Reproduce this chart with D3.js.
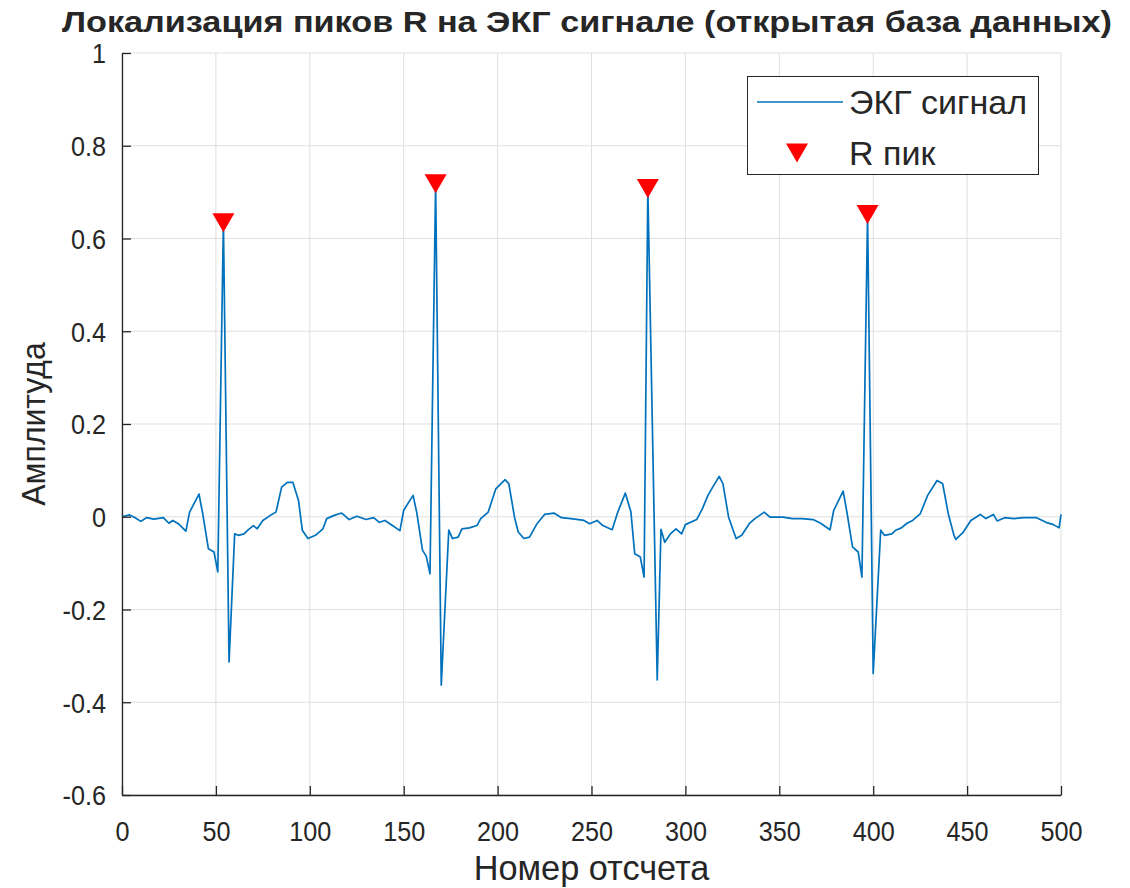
<!DOCTYPE html>
<html>
<head>
<meta charset="utf-8">
<script src="https://cdn.jsdelivr.net/npm/d3@7"></script>
<style>
  body { margin: 0; background: #fff; }
  text { font-family: "Liberation Sans", Arial, sans-serif; fill: #262626; }
</style>
</head>
<body>
<script>
// chart texts
const TITLE = "Локализация пиков R на ЭКГ сигнале (открытая база данных)";
const X_LABEL = "Номер отсчета";
const Y_LABEL = "Амплитуда";
const LEGEND_LABELS = ["ЭКГ сигнал", "R пик"];

// axis ticks
const X_TICKS = [0, 50, 100, 150, 200, 250, 300, 350, 400, 450, 500];
const Y_TICKS = [-0.6, -0.4, -0.2, 0, 0.2, 0.4, 0.6, 0.8, 1];
const Y_TICK_LABELS = ["-0.6", "-0.4", "-0.2", "0", "0.2", "0.4", "0.6", "0.8", "1"];

// ECG trace (sample number, amplitude)
const SAMPLE_IDX = [
  0, 4, 7, 10, 13, 17, 22, 25, 27, 30, 34, 36, 41, 43, 46, 49, 51, 54, 57, 60,
  62, 65, 67, 70, 72, 75, 79, 82, 85, 88, 91, 94, 96, 99, 103, 107, 109, 113, 117, 121,
  125, 130, 134, 137, 140, 144, 148, 150, 155, 157, 160, 162, 164, 167, 170, 174, 176, 179, 181, 185,
  189, 191, 195, 199, 204, 206, 209, 211, 214, 217, 221, 225, 230, 234, 239, 246, 249, 253, 256, 261,
  264, 268, 271, 273, 276, 278, 280, 285, 287, 289, 292, 295, 298, 300, 306, 309, 312, 314, 318, 320,
  323, 327, 330, 334, 337, 342, 345, 352, 357, 362, 368, 372, 377, 379, 384, 386, 389, 392, 394, 397,
  400, 404, 406, 410, 412, 415, 418, 421, 425, 429, 434, 437, 440, 443, 444, 448, 452, 457, 460, 464,
  466, 470, 475, 480, 487, 492, 496, 499, 500
];
const AMPLITUDE = [
  0.000, 0.004, -0.002, -0.010, -0.002, -0.005, -0.002, -0.014, -0.008, -0.015, -0.031, 0.010, 0.049, 0.006, -0.069, -0.076, -0.119, 0.634, -0.313, -0.037,
  -0.040, -0.037, -0.029, -0.019, -0.026, -0.008, 0.003, 0.010, 0.064, 0.074, 0.074, 0.035, -0.029, -0.047, -0.040, -0.026, -0.004, 0.003, 0.008, -0.006,
  0.001, -0.006, -0.002, -0.012, -0.008, -0.019, -0.030, 0.014, 0.046, 0.008, -0.072, -0.085, -0.123, 0.718, -0.363, -0.029, -0.047, -0.044, -0.026, -0.024,
  -0.019, -0.004, 0.010, 0.060, 0.080, 0.071, -0.001, -0.033, -0.047, -0.044, -0.015, 0.005, 0.008, -0.002, -0.004, -0.008, -0.015, -0.008, -0.019, -0.028,
  0.010, 0.051, 0.010, -0.080, -0.087, -0.130, 0.708, -0.352, -0.027, -0.055, -0.037, -0.026, -0.037, -0.017, -0.006, 0.017, 0.046, 0.060, 0.087, 0.071,
  -0.001, -0.047, -0.040, -0.015, -0.004, 0.010, -0.001, -0.001, -0.004, -0.004, -0.006, -0.014, -0.028, 0.014, 0.055, 0.010, -0.065, -0.076, -0.130, 0.652,
  -0.338, -0.029, -0.040, -0.037, -0.029, -0.024, -0.014, -0.008, 0.006, 0.046, 0.078, 0.071, 0.006, -0.040, -0.049, -0.033, -0.008, 0.005, -0.004, 0.005,
  -0.009, -0.002, -0.004, -0.002, -0.002, -0.012, -0.017, -0.024, 0.005
];

// detected R peaks
const PEAK_IDX = [54, 167, 280, 397];
const PEAK_AMP = [0.634, 0.718, 0.708, 0.652];

const WIDTH = 1130;
const HEIGHT = 888;
const PLOT = { left: 122, right: 1061, top: 53, bottom: 795 };
const LINE_COLOR = "#0072bd";
const MARKER_COLOR = "#ff0000";
const TICK_SQUEEZE = 0.9; // tick digits in the reference are a little narrow

const signal = SAMPLE_IDX.map((x, i) => ({ x, y: AMPLITUDE[i] }));
const peaks = PEAK_IDX.map((x, i) => ({ x, y: PEAK_AMP[i] }));

const xScale = d3.scaleLinear().domain([0, 500]).range([PLOT.left, PLOT.right]);
const yScale = d3.scaleLinear().domain([-0.6, 1]).range([PLOT.bottom, PLOT.top]);

const svg = d3.select("body").append("svg")
  .attr("width", WIDTH)
  .attr("height", HEIGHT);

// grid
const grid = svg.append("g").attr("class", "grid")
  .attr("stroke", "#dfdfdf")
  .attr("stroke-width", 1);
grid.selectAll(".vgrid")
  .data(X_TICKS)
  .join("line")
  .attr("class", "vgrid")
  .attr("x1", d => xScale(d)).attr("x2", d => xScale(d))
  .attr("y1", PLOT.top).attr("y2", PLOT.bottom);
grid.selectAll(".hgrid")
  .data(Y_TICKS)
  .join("line")
  .attr("class", "hgrid")
  .attr("x1", PLOT.left).attr("x2", PLOT.right)
  .attr("y1", d => yScale(d)).attr("y2", d => yScale(d));

// ecg line
const line = d3.line().x(d => xScale(d.x)).y(d => yScale(d.y));
svg.append("path")
  .datum(signal)
  .attr("fill", "none")
  .attr("stroke", LINE_COLOR)
  .attr("stroke-width", 1.7)
  .attr("stroke-linejoin", "round")
  .attr("d", line);

// R peak markers (downward triangle)
const TRI = "M-11,-9.5L11,-9.5L0,9.5Z";
svg.append("g").attr("class", "peaks")
  .selectAll("path")
  .data(peaks)
  .join("path")
  .attr("d", TRI)
  .attr("fill", MARKER_COLOR)
  .attr("transform", d => `translate(${xScale(d.x)},${yScale(d.y)})`);

// axes (MATLAB style: ticks pointing inward)
const xAxis = svg.append("g")
  .attr("transform", `translate(0,${PLOT.bottom})`)
  .call(d3.axisBottom(xScale).tickValues(X_TICKS).tickSizeInner(-9).tickSizeOuter(0));
const yAxis = svg.append("g")
  .attr("transform", `translate(${PLOT.left},0)`)
  .call(d3.axisLeft(yScale).tickValues(Y_TICKS).tickSizeInner(-9).tickSizeOuter(0)
    .tickFormat((d, i) => Y_TICK_LABELS[i]));

[xAxis, yAxis].forEach(ax => {
  ax.select(".domain").attr("stroke", "#262626").attr("stroke-width", 1.3);
  ax.selectAll(".tick line").attr("stroke", "#262626").attr("stroke-width", 1.3);
  ax.selectAll(".tick text")
    .attr("font-size", 28)
    .attr("font-family", "Liberation Sans, Arial, sans-serif")
    .attr("fill", "#262626");
});
xAxis.selectAll(".tick text")
  .attr("dy", "0")
  .attr("y", 0)
  .attr("transform", `translate(0,46) scale(${TICK_SQUEEZE},1)`);
yAxis.selectAll(".tick text")
  .attr("x", 0)
  .attr("dy", "0.35em")
  .attr("transform", `translate(-16,0) scale(${TICK_SQUEEZE},1)`);

// title and axis labels
svg.append("text")
  .attr("x", 587).attr("y", 32)
  .attr("text-anchor", "middle")
  .attr("font-size", 30)
  .attr("font-weight", "bold")
  .attr("fill", "#000")
  .attr("textLength", 1050)
  .attr("lengthAdjust", "spacingAndGlyphs")
  .text(TITLE);

svg.append("text")
  .attr("transform", `translate(${(PLOT.left + PLOT.right) / 2},880) scale(0.98,1)`)
  .attr("text-anchor", "middle")
  .attr("font-size", 35)
  .text(X_LABEL);

svg.append("text")
  .attr("transform", `translate(45,${(PLOT.top + PLOT.bottom) / 2}) rotate(-90) scale(0.94,1)`)
  .attr("text-anchor", "middle")
  .attr("font-size", 34)
  .text(Y_LABEL);

// legend
const legend = svg.append("g").attr("class", "legend");
legend.append("rect")
  .attr("x", 747.5).attr("y", 76.5)
  .attr("width", 291).attr("height", 98)
  .attr("fill", "#fff")
  .attr("stroke", "#262626")
  .attr("stroke-width", 1);
legend.append("line")
  .attr("x1", 757).attr("x2", 843)
  .attr("y1", 102).attr("y2", 102)
  .attr("stroke", LINE_COLOR)
  .attr("stroke-width", 1.7);
legend.append("path")
  .attr("d", TRI)
  .attr("fill", MARKER_COLOR)
  .attr("transform", "translate(797,153)");
legend.selectAll(".legend-label")
  .data(LEGEND_LABELS)
  .join("text")
  .attr("class", "legend-label")
  .attr("transform", (d, i) => `translate(849,${114 + i * 51})`)
  .attr("font-size", 34)
  .text(d => d);
</script>
</body>
</html>
